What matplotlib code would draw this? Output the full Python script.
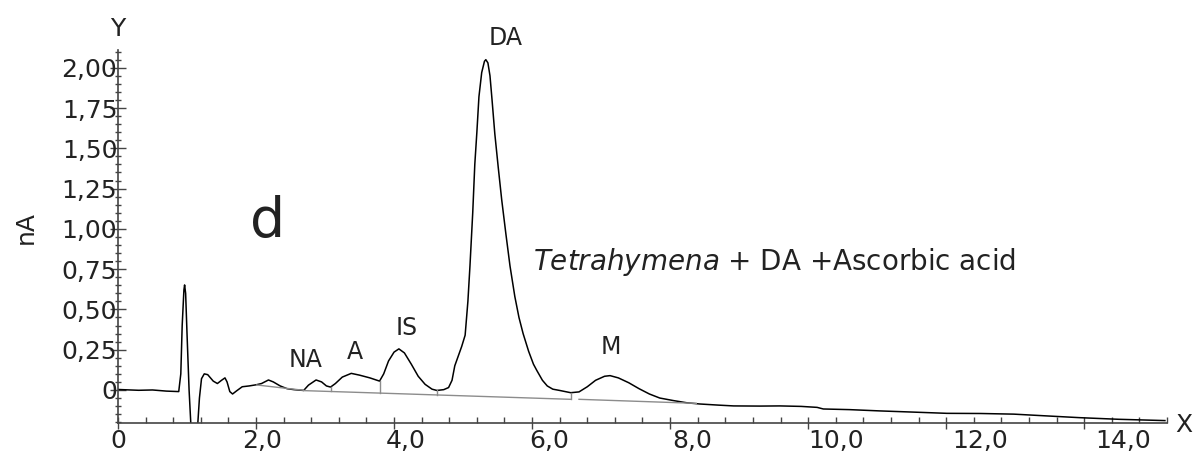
#!/usr/bin/env python3
"""Chromatogram d: Tetrahymena + DA + ascorbic acid."""

import matplotlib

matplotlib.use("Agg")
import matplotlib.pyplot as plt
import matplotlib.transforms as mtrans
import numpy as np
from matplotlib.ticker import MultipleLocator

# retention time (min) and detector current (nA)
trace_x = [
    0.00, 0.30, 0.50, 0.70, 0.88, 0.91, 0.93, 0.955, 0.965, 0.98, 1.00, 1.03,
    1.06, 1.10, 1.15, 1.18, 1.21, 1.25, 1.30, 1.38, 1.44, 1.50, 1.55, 1.58,
    1.62, 1.66, 1.72, 1.80, 1.90, 2.00, 2.08, 2.18, 2.25, 2.35, 2.45, 2.55,
    2.69, 2.76, 2.87, 2.95, 3.02, 3.08, 3.15, 3.25, 3.38, 3.50, 3.65, 3.79,
    3.85, 3.92, 4.00, 4.07, 4.15, 4.25, 4.35, 4.45, 4.55, 4.62, 4.72, 4.79,
    4.84, 4.88, 4.93, 4.98, 5.03, 5.07, 5.10, 5.14, 5.17, 5.20, 5.23, 5.27,
    5.31, 5.33, 5.36, 5.39, 5.42, 5.46, 5.51, 5.56, 5.62, 5.68, 5.75, 5.81,
    5.87, 5.95, 6.02, 6.07, 6.15, 6.22, 6.30, 6.40, 6.56, 6.68, 6.80, 6.92,
    7.05, 7.13, 7.25, 7.40, 7.55, 7.70, 7.85, 8.05, 8.25, 8.43, 8.70, 8.92,
    9.30, 9.59, 9.90, 10.13, 10.22, 10.60, 11.04, 11.50, 12.01, 12.50, 12.98,
    13.50, 13.94, 14.50, 15.17,
]
trace_y = [
    0.003, -0.002, 0.000, -0.007, -0.010, 0.10, 0.40, 0.62, 0.652, 0.60, 0.35, 0.0,
    -0.25, -0.40, -0.25, -0.05, 0.07, 0.100, 0.095, 0.055, 0.040, 0.060, 0.075, 0.05,
    -0.01, -0.025, -0.005, 0.020, 0.025, 0.032, 0.040, 0.062, 0.050, 0.025, 0.008, 0.002,
    -0.003, 0.030, 0.062, 0.050, 0.025, 0.018, 0.040, 0.080, 0.103, 0.092, 0.075, 0.055,
    0.10, 0.18, 0.235, 0.255, 0.23, 0.16, 0.085, 0.035, 0.005, -0.003, 0.002, 0.015,
    0.06, 0.15, 0.21, 0.27, 0.34, 0.55, 0.77, 1.10, 1.40, 1.60, 1.82, 1.97,
    2.04, 2.05, 2.03, 1.95, 1.80, 1.59, 1.38, 1.18, 0.97, 0.77, 0.58, 0.45,
    0.35, 0.24, 0.16, 0.12, 0.06, 0.025, 0.005, -0.003, -0.017, -0.012, 0.02, 0.06,
    0.085, 0.089, 0.075, 0.045, 0.008, -0.025, -0.05, -0.066, -0.080, -0.087, -0.094, -0.099,
    -0.100, -0.099, -0.102, -0.108, -0.118, -0.122, -0.130, -0.137, -0.145, -0.146, -0.150,
    -0.162, -0.172, -0.182, -0.190,
]

# integration baselines (start x, start y, end x, end y)
baselines = [
    (2.01, 0.031, 2.69, -0.002),
    (2.69, -0.004, 6.56, -0.058),
    (6.68, -0.058, 8.38, -0.083),
]
drop_x = [3.08, 3.79, 4.62, 6.56]

peak_names = ["NA", "A", "IS", "DA", "M"]
peak_label_x = [2.72, 3.43, 4.19, 5.61, 7.14]
peak_label_y = [0.186, 0.236, 0.385, 2.186, 0.267]

x_ticks = [0, 2, 4, 6, 8, 10, 12, 14]
x_tick_labels = ["0", "2,0", "4,0", "6,0", "8,0", "10,0", "12,0", "14,0"]
y_ticks = [0, 0.25, 0.5, 0.75, 1.0, 1.25, 1.5, 1.75, 2.0]
y_tick_labels = ["0", "0,25", "0,50", "0,75", "1,00", "1,25", "1,50", "1,75", "2,00"]

INK = "#222222"
AXC = "#444444"
FS = 18

plt.rcParams["font.family"] = ["DejaVu Sans"]

fig = plt.figure(figsize=(11.95, 4.53), dpi=100)
W, H = 1195, 453
ax = fig.add_axes([118 / W, (H - 423) / H, (1167 - 118) / W, (423 - 50) / H])

ax.plot(trace_x, trace_y, color="black", lw=1.1)
for x0, y0, x1, y1 in baselines:
    ax.plot([x0, x1], [y0, y1], color="#8c8c8c", lw=1.0)
bx0, by0, bx1, by1 = baselines[1]
for dx in drop_x:
    yb = np.interp(dx, [bx0, bx1], [by0, by1])
    yt = np.interp(dx, trace_x, trace_y)
    ax.plot([dx, dx], [yt, yb], color="#8c8c8c", lw=1.0)

ax.set_xlim(0, 15.2)
ax.set_ylim(-0.205, 2.11)

for s in ("top", "right"):
    ax.spines[s].set_visible(False)
for s in ("left", "bottom"):
    ax.spines[s].set_color(AXC)
    ax.spines[s].set_linewidth(1.2)

ax.set_yticks(y_ticks)
ax.set_yticklabels(y_tick_labels)
ax.yaxis.set_minor_locator(MultipleLocator(0.05))
ax.tick_params(axis="y", which="major", direction="inout", length=11, width=1.0,
               color=AXC, labelsize=FS, labelcolor=INK, pad=-5)
ax.tick_params(axis="y", which="minor", direction="inout", length=5, width=1.0, color=AXC)

ax.set_xticks(x_ticks)
ax.set_xticklabels([])
ax.xaxis.set_minor_locator(MultipleLocator(0.4))
ax.tick_params(axis="x", which="major", direction="inout", length=9, width=1.0, color=AXC)
ax.tick_params(axis="x", which="minor", direction="in", length=4, width=1.0, color=AXC)

# x tick labels drift right of their ticks in the original
xtrans = ax.get_xaxis_transform()
for v, lab in zip(x_ticks, x_tick_labels):
    off = mtrans.ScaledTranslation(v * 2.8 / 100, 0, fig.dpi_scale_trans)
    ax.text(v, -0.047, lab, transform=xtrans + off, ha="center", va="center",
            fontsize=FS, color=INK)

for name, lx, ly in zip(peak_names, peak_label_x, peak_label_y):
    ax.text(lx, ly, name, ha="center", va="center", fontsize=17, color=INK, clip_on=False)

ax.text(2.17, 1.04, "d", ha="center", va="center", fontsize=40, color=INK)
ax.text(6.01, 0.795, r"$\it{Tetrahymena}$ + DA +Ascorbic acid", ha="left", va="center",
        fontsize=20, color=INK)

fig.text(118 / W, 1 - 29 / H, "Y", ha="center", va="center", fontsize=FS, color=INK)
fig.text(1184 / W, 1 - 425 / H, "X", ha="center", va="center", fontsize=FS, color=INK)
fig.text(26 / W, 1 - 227 / H, "nA", ha="center", va="center", rotation=90,
         fontsize=FS, color=INK)

fig.savefig("out.png", dpi=100)
